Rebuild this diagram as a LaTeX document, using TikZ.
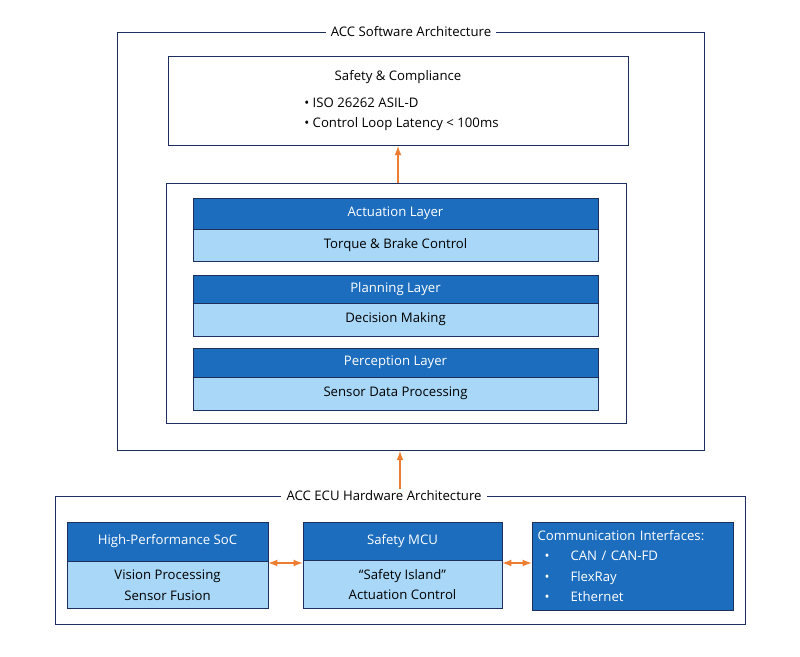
\documentclass[tikz,border=0pt]{standalone}
\usepackage{fontspec}
\setmainfont{Open Sans}
\usetikzlibrary{positioning}
\definecolor{HeadBlue}{HTML}{1C6DBE}
\definecolor{BodyBlue}{HTML}{A8D7F8}
\definecolor{FrameNavy}{HTML}{1F2F5C}
\definecolor{LinkOrange}{HTML}{ED7D31}

\begin{document}
\begin{tikzpicture} [x=0.02cm,y=-0.02cm,
			every node/.style={font=\fontsize{7.5}{9.5}\selectfont,align=center,inner sep=0},
			frame/.style={draw=FrameNavy,fill=white},
			head/.style={draw=FrameNavy,fill=HeadBlue,text=white},
			body/.style={draw=FrameNavy,fill=BodyBlue},
			title/.style={fill=white,inner xsep=3pt,inner ysep=1pt},
			link/.style={draw=LinkOrange,thick,-latex},
			biglink/.style={draw=LinkOrange,thick,latex-latex}
		]
			\useasboundingbox (0,0) rectangle (800,656);
			% software side
			\draw[frame] (117,32) rectangle (704,450);
			\node[title] (swTitle) at (411,32) {ACC Software Architecture};
			\draw[frame] (168,56) rectangle (628,145);
			\node (safetyTitle) at (398,77) {Safety \& Compliance};
			\node[anchor=west,align=left] (safetyItems) at (304,114) {\textbullet\ ISO 26262 ASIL-D\\[2pt]\textbullet\ Control Loop Latency < 100ms};
			\coordinate (safetyBottom) at (398,146);
			\draw[frame] (166,183) rectangle (626,423);
			\coordinate (layersTop) at (398,183);
			\foreach \name/\sub/\top/\mid/\bot in {Actuation Layer/Torque \& Brake Control/198/229/261,
					Planning Layer/Decision Making/275/303/336,
					Perception Layer/Sensor Data Processing/348/377/410} {
				\draw[head] (193,\top) rectangle (598,\mid);
				\node at (395.5,{(\top+\mid)/2}) [text=white] {\name};
				\draw[body] (193,\mid) rectangle (598,\bot);
				\node at (395.5,{(\mid+\bot)/2}) {\sub};
			}
			\draw[link] (layersTop) -- (safetyBottom);
			% hardware side
			\draw[frame] (55,496) rectangle (745,624);
			\node[title] (hwTitle) at (384,496) {ACC ECU Hardware Architecture};
			\coordinate (swBottom) at (400,451);
			\draw[link] (hwTitle.north-|swBottom) -- (swBottom);
			\node[head,minimum width=201*0.02cm,minimum height=39*0.02cm] (socHead) at (167.5,541.5) {High-Performance SoC};
			\node[body,minimum width=201*0.02cm,minimum height=47*0.02cm,below=0pt of socHead] (socBody) {Vision Processing\\[2pt]Sensor Fusion};
			\node[head,minimum width=199*0.02cm,minimum height=38*0.02cm] (mcuHead) at (402.5,541) {Safety MCU};
			\node[body,minimum width=199*0.02cm,minimum height=48*0.02cm,below=0pt of mcuHead] (mcuBody) {“Safety Island”\\[2pt]Actuation Control};
			\node[head,minimum width=201*0.02cm,minimum height=88*0.02cm,align=left,text width=190*0.02cm] (commBox) at (632.5,566) {Communication Interfaces:\\[2pt]
				\hspace*{4pt}\textbullet\hspace{12pt}CAN / CAN-FD\\[2pt]
				\hspace*{4pt}\textbullet\hspace{12pt}FlexRay\\[2pt]
				\hspace*{4pt}\textbullet\hspace{12pt}Ethernet};
			\draw[biglink] (socBody.east|-0,563) -- (mcuBody.west|-0,563);
			\draw[biglink] (mcuBody.east|-0,563) -- (commBox.west|-0,563);
		\end{tikzpicture}
\end{document}
